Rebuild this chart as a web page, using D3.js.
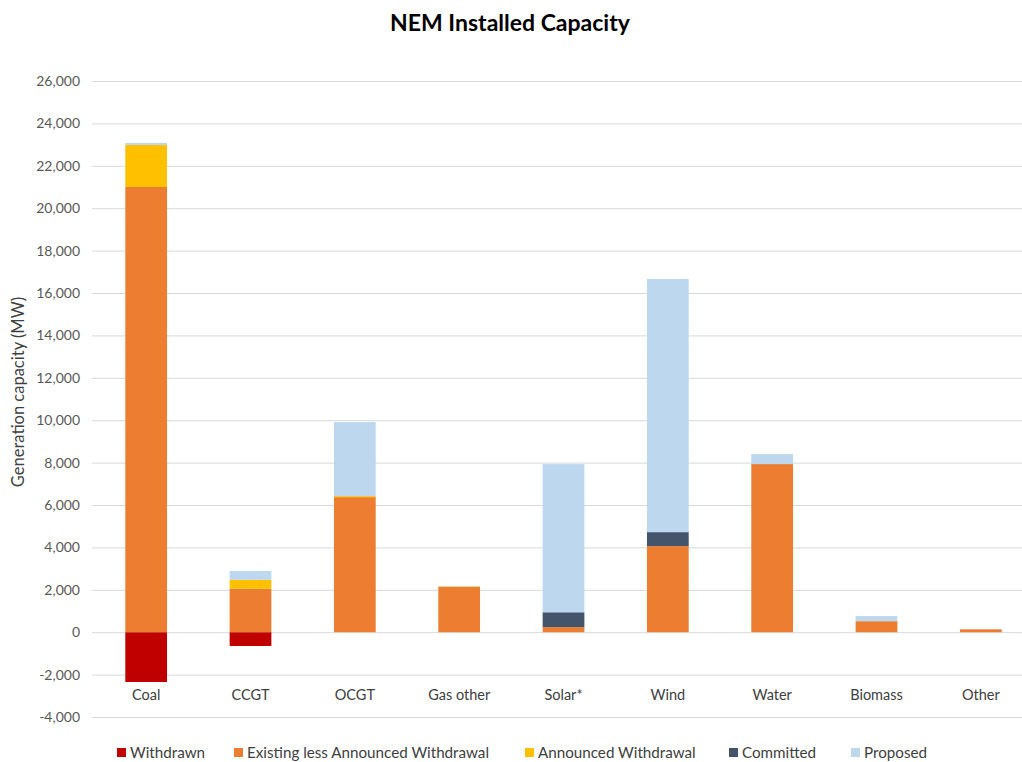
<!DOCTYPE html>
<html><head><meta charset="utf-8">
<script src="https://cdn.jsdelivr.net/npm/d3@7"></script>
<style>body{margin:0;background:#fff;} text{font-family:Lato, "Open Sans", sans-serif;}</style>
</head><body>
<svg id="c" width="1022" height="762"></svg>
<script>
const categories = ["Coal","CCGT","OCGT","Gas other","Solar*","Wind","Water","Biomass","Other"];
const seriesNames = ["Withdrawn","Existing less Announced Withdrawal","Announced Withdrawal","Committed","Proposed"];
const withdrawn = [-2350,-650,0,0,0,0,0,0,0];
const existing = [21000,2050,6370,2130,240,4060,7930,520,140];
const announced = [1980,420,50,30,0,0,0,0,0];
const committed = [0,0,0,0,700,660,0,0,0];
const proposed = [100,420,3490,20,6990,11940,470,240,10];
const yTicks = [-4000,-2000,0,2000,4000,6000,8000,10000,12000,14000,16000,18000,20000,22000,24000,26000];
const colors = ["#C00000","#ED7D31","#FFC000","#44546A","#BDD7EE"];

const svg = d3.select("#c");
const x = d3.scaleBand().domain(categories).range([94,1033]).paddingInner(0.6).paddingOuter(0.3);
const y = d3.scaleLinear().domain([-4000,26000]).range([717,81]);

// gridlines
svg.append("g").selectAll("line").data(yTicks).join("line")
  .attr("x1",92).attr("x2",1022).attr("y1",d=>y(d)+0.5).attr("y2",d=>y(d)+0.5)
  .attr("stroke","#D9D9D9").attr("stroke-width",1);

// y axis labels
const fmt = d3.format(",");
const yAxis = d3.axisLeft(y).tickValues(yTicks).tickSize(0).tickPadding(0).tickFormat(d => fmt(d).replace("\u2212","-"));
const ya = svg.append("g").attr("transform","translate(80,0)").call(yAxis);
ya.select(".domain").remove();
ya.selectAll("text").attr("font-size",14).attr("fill","#595959").style("font-family","Lato, 'Open Sans', sans-serif");

// stacked bars
const stackSeries = [existing, announced, committed, proposed];
categories.forEach((c,i)=>{
  if (withdrawn[i] < 0) {
    svg.append("rect").attr("x",x(c)).attr("width",x.bandwidth())
      .attr("y",y(0)).attr("height",y(withdrawn[i])-y(0)).attr("fill",colors[0]);
  }
  let base = 0;
  stackSeries.forEach((s,k)=>{
    const v = s[i];
    if (v>0){
      svg.append("rect").attr("x",x(c)).attr("width",x.bandwidth())
        .attr("y",y(base+v)).attr("height",y(base)-y(base+v)).attr("fill",colors[k+1]);
    }
    base += v;
  });
});

// x axis labels
const xAxis = d3.axisBottom(x).tickSize(0).tickPadding(0);
const xa = svg.append("g").attr("transform","translate(0,690)").call(xAxis);
xa.select(".domain").remove();
xa.selectAll("text").attr("font-size",14.5).attr("fill","#404040").style("font-family","Lato, 'Open Sans', sans-serif");

// title
svg.append("text").attr("x",510).attr("y",31).attr("text-anchor","middle")
  .attr("font-size",23).attr("font-weight","bold").attr("fill","#000").text("NEM Installed Capacity");

// y label
svg.append("text").attr("transform","translate(24,392) rotate(-90)").attr("text-anchor","middle")
  .attr("font-size",16.5).attr("fill","#404040").text("Generation capacity (MW)");

// legend
const legX = [117,234,525,729,851];
const lg = svg.append("g");
seriesNames.forEach((n,i)=>{
  lg.append("rect").attr("x",legX[i]).attr("y",748).attr("width",9).attr("height",9).attr("fill",colors[i]);
  lg.append("text").attr("x",legX[i]+13).attr("y",758).attr("font-size",15.2).attr("fill","#404040").text(n);
});
</script>
</body></html>
